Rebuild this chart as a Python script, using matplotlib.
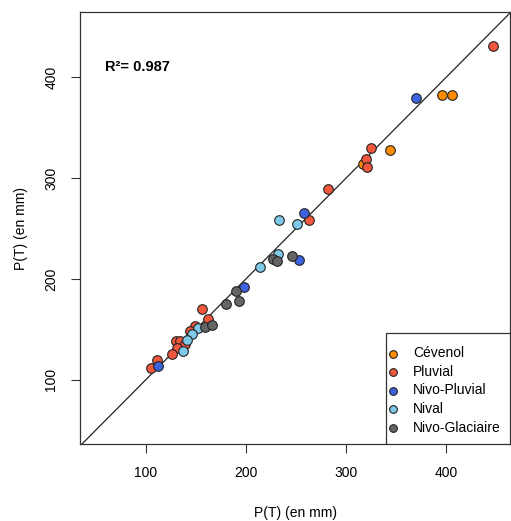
import numpy as np
import matplotlib
matplotlib.use("Agg")
from matplotlib import pyplot as plt
from matplotlib.patches import Rectangle

plt.rcParams['font.family'] = ['Liberation Sans', 'DejaVu Sans']

cevenol_x = [396, 406, 344, 317]
cevenol_y = [383, 383, 328, 314]

pluvial_x = [447, 325, 320, 321, 282, 263, 156, 162, 149, 144, 130, 134, 139, 131, 126, 111, 105]
pluvial_y = [431, 330, 319, 311, 289, 258, 170, 160, 153, 148, 138, 138, 135, 131, 125, 119, 111]

nivopluvial_x = [370, 258, 253, 198, 112]
nivopluvial_y = [380, 265, 219, 192, 113]

nival_x = [233, 251, 232, 214, 152, 146, 141, 137]
nival_y = [258, 254, 225, 212, 151, 145, 139, 128]

nivoglac_x = [227, 231, 246, 190, 193, 180, 159, 166]
nivoglac_y = [220, 218, 223, 188, 178, 175, 152, 154]

series = [
    ("Cévenol", cevenol_x, cevenol_y, "#FF8C00"),
    ("Pluvial", pluvial_x, pluvial_y, "#F0583D"),
    ("Nivo-Pluvial", nivopluvial_x, nivopluvial_y, "#3D62DD"),
    ("Nival", nival_x, nival_y, "#7EC8E8"),
    ("Nivo-Glaciaire", nivoglac_x, nivoglac_y, "#656565"),
]

fig = plt.figure(figsize=(5.11, 5.21), dpi=100)
ax = fig.add_axes([80/511, 77/521, 430/511, 432/521])

ax.axline((0, 0), slope=1, color="#222222", lw=0.9, zorder=1)

for nom, xs, ys, col in series:
    ax.scatter(xs, ys, s=48, c=col, edgecolors="#222222", linewidths=0.8,
               label=nom, zorder=2)

ax.set_xlim(34, 464)
ax.set_ylim(36, 465)
ax.set_xticks([100, 200, 300, 400])
ax.set_yticks([100, 200, 300, 400])
ax.tick_params(direction="out", length=6.5, width=0.8, labelsize=10, pad=9,
               color="#333333")
plt.setp(ax.get_yticklabels(), rotation=90, va="center")
for sp in ax.spines.values():
    sp.set_color("#333333")
    sp.set_linewidth(0.9)

ax.set_xlabel("P(T) (en mm)", fontsize=10, labelpad=19)
ax.set_ylabel("P(T) (en mm)", fontsize=10, labelpad=12)

ax.text(59, 410, "R²= 0.987", fontsize=10.5, fontweight="bold", va="center")

# cadre de la legende facon R
cadre = Rectangle((0.711, 0.0), 0.289, 0.257, transform=ax.transAxes,
                  facecolor="white", edgecolor="#333333", lw=0.9, zorder=3)
ax.add_patch(cadre)
leg = ax.legend(loc="upper left", bbox_to_anchor=(0.711, 0.236), borderaxespad=0,
                frameon=False, fontsize=10,
                handlelength=0.5, handletextpad=1.15, borderpad=0.3,
                labelspacing=0.33, markerscale=0.8)
leg.set_zorder(4)

fig.savefig("out.png", dpi=100)
